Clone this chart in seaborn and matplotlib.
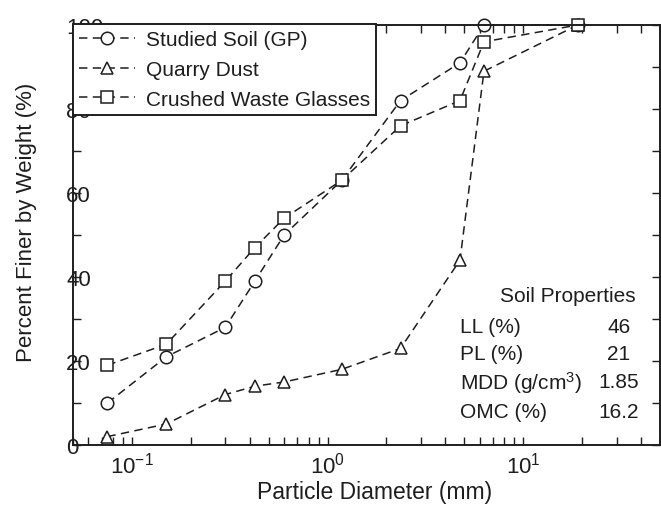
import numpy as np
import pandas as pd
import matplotlib
matplotlib.use("Agg")
import matplotlib.pyplot as plt
import seaborn as sns
from matplotlib.ticker import MultipleLocator, LogLocator, NullFormatter

# Sieve sizes (mm) and percent finer for each material
sizes = [0.075, 0.15, 0.3, 0.425, 0.6, 1.18, 2.36, 4.75, 6.3, 19]
studied_soil = [10, 21, 28, 39, 50, 63, 82, 91, 100, 100]
quarry_dust = [2, 5, 12, 14, 15, 18, 23, 44, 89, 100]
waste_glass = [19, 24, 39, 47, 54, 63, 76, 82, 96, 100]
names = ["Studied Soil (GP)", "Quarry Dust", "Crushed Waste Glasses"]

# Soil properties table
prop_labels = ["LL (%)", "PL (%)", "MDD (g/cm$^{3}$)", "OMC (%)"]
prop_values = ["46", "21", "1.85", "16.2"]

ink = "#1e1e1e"

sns.set_style("ticks")
plt.rcParams["font.family"] = ["Liberation Sans", "DejaVu Sans"]
plt.rcParams["mathtext.fontset"] = "custom"
plt.rcParams["mathtext.rm"] = "Liberation Sans"
plt.rcParams["mathtext.it"] = "Liberation Sans:italic"
plt.rcParams["mathtext.bf"] = "Liberation Sans:bold"
plt.rcParams["text.color"] = ink
plt.rcParams["axes.labelcolor"] = ink
plt.rcParams["xtick.color"] = ink
plt.rcParams["ytick.color"] = ink

df = pd.DataFrame({
    "size": sizes * 3,
    "finer": studied_soil + quarry_dust + waste_glass,
    "material": [names[0]] * len(sizes) + [names[1]] * len(sizes) + [names[2]] * len(sizes),
})

fig, ax = plt.subplots(figsize=(6.61, 5.06), dpi=100)
fig.subplots_adjust(left=0.1104, right=0.9985, bottom=0.1186, top=0.9486)

sns.lineplot(data=df, x="size", y="finer", style="material", style_order=names,
             markers=dict(zip(names, ["o", "^", "s"])),
             dashes={n: (5.5, 3.5) for n in names},
             color=ink, linewidth=1.1, markersize=9,
             markerfacecolor="white", markeredgecolor=ink, markeredgewidth=1.1,
             errorbar=None, legend=False, clip_on=False, ax=ax)

ax.set_xscale("log")
ax.set_xlim(0.05, 50)
ax.set_ylim(0, 100)
ax.set_yticks([0, 20, 40, 60, 80, 100])
ax.yaxis.set_minor_locator(MultipleLocator(10))
ax.xaxis.set_minor_locator(LogLocator(base=10, subs=np.arange(2, 10)))
ax.xaxis.set_minor_formatter(NullFormatter())

ax.tick_params(which="both", direction="in", top=True, right=True,
               length=6, width=1, labelsize=16)
ax.tick_params(axis="x", pad=5)
ax.tick_params(axis="y", pad=5)
for lbl in ax.get_yticklabels():
    lbl.set_horizontalalignment("left")

for sp in ax.spines.values():
    sp.set_linewidth(1.4)
    sp.set_color(ink)

ax.set_xlabel("Particle Diameter (mm)", fontsize=16.5)
ax.set_ylabel("Percent Finer by Weight (%)", fontsize=16)
ax.xaxis.set_label_coords(0.513, -0.083)
ax.yaxis.set_label_coords(-0.061, 0.533)

leg = ax.legend(ax.lines[:3], names, loc="upper left", bbox_to_anchor=(0, 1.003),
                borderaxespad=0, fontsize=15, frameon=True, fancybox=False,
                framealpha=1, edgecolor=ink, handlelength=2.7,
                handletextpad=0.5, borderpad=0.3, labelspacing=0.52)
leg.get_frame().set_linewidth(1.4)

# Soil properties box
ax.text(0.843, 0.355, "Soil Properties", transform=ax.transAxes,
        ha="center", va="center", fontsize=15)
row_y = [0.283, 0.217, 0.150, 0.079]
for lab, val, y in zip(prop_labels, prop_values, row_y):
    ax.text(0.659, y, lab, transform=ax.transAxes, ha="left", va="center", fontsize=15)
    ax.text(0.930, y, val, transform=ax.transAxes, ha="center", va="center", fontsize=15)

fig.savefig("out.png", dpi=100)
